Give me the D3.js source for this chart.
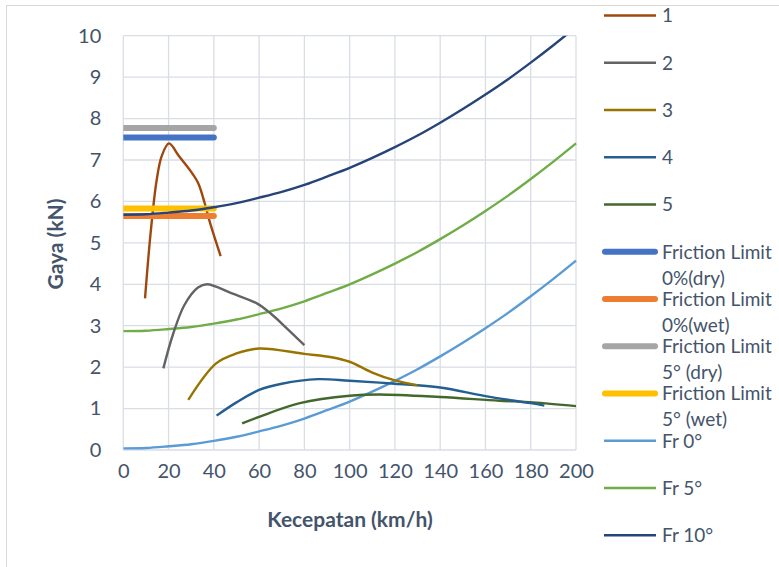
<!DOCTYPE html>
<html>
<head>
<meta charset="utf-8">
<script src="https://cdnjs.cloudflare.com/ajax/libs/d3/7.8.5/d3.min.js"></script>
<style>
  html, body { margin: 0; padding: 0; background: #fff; }
  svg { display: block; }
  text { font-family: Lato, "Open Sans", sans-serif; fill: #44546A; }
</style>
</head>
<body>
<svg id="chart" width="779" height="567"></svg>
<script>
// Axis ticks
const xTicks = [0, 20, 40, 60, 80, 100, 120, 140, 160, 180, 200];
const yTicks = [0, 1, 2, 3, 4, 5, 6, 7, 8, 9, 10];

// Tractive-force curves (speed km/h, force kN)
const series1 = [[9.6, 3.66], [12, 5.2], [14.7, 6.5], [17, 7.1], [20.2, 7.4], [24.5, 7.1], [29.5, 6.75], [33, 6.45], [36, 5.95], [38.5, 5.45], [43, 4.68]];
const series2 = [[17.7, 1.97], [22, 2.8], [27, 3.5], [33, 3.92], [37, 4.0], [48, 3.78], [59, 3.54], [65, 3.3], [72, 2.95], [80, 2.53]];
const series3 = [[28.7, 1.21], [41, 2.09], [50, 2.33], [60, 2.45], [80, 2.32], [92, 2.24], [100, 2.13], [110, 1.87], [120, 1.68], [130, 1.56]];
const series4 = [[41.2, 0.83], [50, 1.15], [60, 1.45], [70, 1.6], [86, 1.71], [100, 1.67], [120, 1.6], [140, 1.51], [160, 1.3], [180, 1.13], [186, 1.07]];
const series5 = [[52.5, 0.64], [60, 0.8], [78, 1.13], [100, 1.31], [113, 1.34], [140, 1.28], [166, 1.19], [181, 1.15], [200, 1.06]];

// Friction limits, drawn over 0–40 km/h
const frictionSpeeds = [0, 40];
const fl0Dry = 7.54;
const fl0Wet = 5.65;
const fl5Dry = 7.77;
const fl5Wet = 5.83;

// Resistance curves sampled every 10 km/h
const resistSpeeds = [0, 10, 20, 30, 40, 50, 60, 70, 80, 90, 100, 110, 120, 130, 140, 150, 160, 170, 180, 190, 200];
const fr0 = [0.04, 0.05, 0.09, 0.14, 0.22, 0.32, 0.45, 0.59, 0.76, 0.96, 1.17, 1.41, 1.67, 1.95, 2.26, 2.59, 2.94, 3.31, 3.71, 4.13, 4.57];
const fr5 = [2.87, 2.88, 2.92, 2.97, 3.05, 3.15, 3.28, 3.42, 3.59, 3.79, 4.00, 4.24, 4.50, 4.78, 5.09, 5.42, 5.77, 6.14, 6.54, 6.96, 7.40];
const fr10 = [5.68, 5.69, 5.73, 5.78, 5.86, 5.96, 6.09, 6.23, 6.40, 6.60, 6.81, 7.05, 7.31, 7.59, 7.90, 8.23, 8.58, 8.95, 9.35, 9.77, 10.21];

const legendLabels = ["1", "2", "3", "4", "5", ["Friction Limit", "0%(dry)"], ["Friction Limit", "0%(wet)"], ["Friction Limit", "5° (dry)"], ["Friction Limit", "5° (wet)"], "Fr 0°", "Fr 5°", "Fr 10°"];
const legendColors = ["#9E480E", "#636363", "#997300", "#255E91", "#43682B", "#4472C4", "#ED7D31", "#A5A5A5", "#FFC000", "#5B9BD5", "#70AD47", "#264478"];

const svg = d3.select("#chart");
const plot = { left: 123.3, right: 576, top: 35.7, bottom: 450 };
const x = d3.scaleLinear().domain([0, 200]).range([plot.left, plot.right]);
const y = d3.scaleLinear().domain([0, 10]).range([plot.bottom, plot.top]);

// chart frame
svg.append("rect").attr("x", 6.5).attr("y", 5.5).attr("width", 820).attr("height", 620)
  .attr("fill", "#fff").attr("stroke", "#D9D9D9").attr("stroke-width", 1);

// gridlines
const gridColor = "#D9DDE4";
svg.append("g").selectAll("line").data(xTicks).join("line")
  .attr("x1", d => x(d)).attr("x2", d => x(d)).attr("y1", plot.top).attr("y2", plot.bottom)
  .attr("stroke", gridColor).attr("stroke-width", 1.3);
svg.append("g").selectAll("line").data(yTicks).join("line")
  .attr("y1", d => y(d)).attr("y2", d => y(d)).attr("x1", plot.left).attr("x2", plot.right)
  .attr("stroke", gridColor).attr("stroke-width", 1.3);

// tick labels via axes
const xAxis = svg.append("g").attr("transform", `translate(0,${plot.bottom})`)
  .call(d3.axisBottom(x).tickValues(xTicks).tickSize(0).tickPadding(14));
const yAxis = svg.append("g").attr("transform", `translate(${plot.left},0)`)
  .call(d3.axisLeft(y).tickValues(yTicks).tickSize(0).tickPadding(22));
[xAxis, yAxis].forEach(g => {
  g.select(".domain").remove();
  g.selectAll("text").attr("font-family", "Lato, sans-serif").attr("font-size", 20).attr("fill", "#44546A");
});

// axis titles
svg.append("text").attr("x", 350).attr("y", 527).attr("text-anchor", "middle")
  .attr("font-size", 21).attr("font-weight", "bold").text("Kecepatan (km/h)");
svg.append("text").attr("transform", "translate(63,244) rotate(-90)").attr("text-anchor", "middle")
  .attr("font-size", 21).attr("font-weight", "bold").text("Gaya (kN)");

// clip to plot area
svg.append("clipPath").attr("id", "plotClip").append("rect")
  .attr("x", plot.left).attr("y", plot.top).attr("width", plot.right - plot.left + 4).attr("height", plot.bottom - plot.top);
const layer = svg.append("g").attr("clip-path", "url(#plotClip)");

const smooth = d3.line().x(d => x(d[0])).y(d => y(d[1])).curve(d3.curveCatmullRom.alpha(0.5));
const straight = d3.line().x(d => x(d[0])).y(d => y(d[1]));

// resistance curves
[[fr0, "#5B9BD5"], [fr5, "#70AD47"]].forEach(([vals, color]) => {
  layer.append("path").attr("d", smooth(d3.zip(resistSpeeds, vals))).attr("fill", "none")
    .attr("stroke", color).attr("stroke-width", 2.4);
});

// tractive-force curves, gear 1 on top
[[series5, "#43682B"], [series4, "#255E91"], [series3, "#997300"], [series2, "#636363"], [series1, "#9E480E"]]
  .forEach(([pts, color]) => {
    layer.append("path").attr("d", smooth(pts)).attr("fill", "none")
      .attr("stroke", color).attr("stroke-width", 2.4).attr("stroke-linejoin", "round");
  });

// friction-limit bars
[[fl5Dry, "#A5A5A5"], [fl0Dry, "#4472C4"], [fl0Wet, "#ED7D31"], [fl5Wet, "#FFC000"]].forEach(([val, color]) => {
  layer.append("path").attr("d", straight(frictionSpeeds.map(v => [v, val]))).attr("fill", "none")
    .attr("stroke", color).attr("stroke-width", 6).attr("stroke-linecap", "round");
});

// Fr 10° over the friction bars
layer.append("path").attr("d", smooth(d3.zip(resistSpeeds, fr10))).attr("fill", "none")
  .attr("stroke", "#264478").attr("stroke-width", 2.4);

// legend
const legend = svg.append("g");
legendLabels.forEach((lab, i) => {
  const ly = 15.5 + i * 47.25;
  const thick = i >= 5 && i <= 8;
  legend.append("line").attr("x1", thick ? 605 : 604).attr("x2", thick ? 655 : 656)
    .attr("y1", ly).attr("y2", ly).attr("stroke", legendColors[i])
    .attr("stroke-width", thick ? 6 : 2.4).attr("stroke-linecap", thick ? "round" : "butt");
  const t = legend.append("text").attr("x", 662).attr("y", ly).attr("dy", "0.36em").attr("font-size", 19);
  if (Array.isArray(lab)) {
    t.append("tspan").attr("x", 662).text(lab[0]);
    t.append("tspan").attr("x", 662).attr("dy", 26).text(lab[1]);
  } else {
    t.text(lab);
  }
});
</script>
</body>
</html>
